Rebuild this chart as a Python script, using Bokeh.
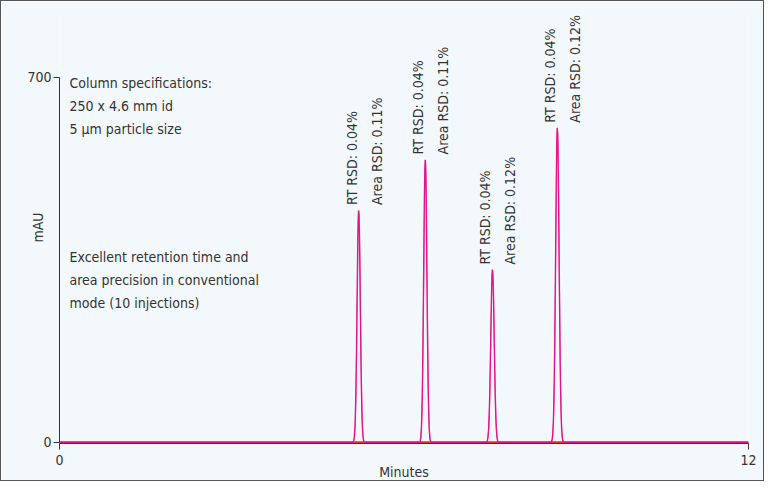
import numpy as np
from bokeh.plotting import figure
from bokeh.models import Label, ColumnDataSource, FixedTicker
from bokeh.core.properties import value
from bokeh.embed import file_html
from bokeh.resources import INLINE

peak_rt = [5.21, 6.37, 7.54, 8.67]
peak_height = [445, 542, 331, 603]
peak_sigma = [0.028, 0.028, 0.03, 0.03]
rt_rsd = ["RT RSD: 0.04%", "RT RSD: 0.04%", "RT RSD: 0.04%", "RT RSD: 0.04%"]
area_rsd = ["Area RSD: 0.11%", "Area RSD: 0.11%", "Area RSD: 0.12%", "Area RSD: 0.12%"]
x_ticks = [0, 12]
y_ticks = [0, 700]

FONT = "DejaVu Sans Condensed"
FS = "14px"
t = np.linspace(0, 12, 4001)
def trace(shift, scale):
    y = np.zeros_like(t)
    for rt, h, s in zip(peak_rt, peak_height, peak_sigma):
        y += h * scale * np.exp(-0.5 * ((t - rt - shift) / s) ** 2)
    return y

p = figure(width=764, height=481, output_backend="svg", toolbar_location=None,
           x_range=(0, 12), y_range=(-2, 826), min_border_left=58, min_border_right=17,
           min_border_top=10, min_border_bottom=36, background_fill_color="#f3f8fc",
           border_fill_color="#f3f8fc", outline_line_color=None)
p.styles = {"border": "1px solid #555555"}
p.grid.visible = False
p.xaxis.ticker = FixedTicker(ticks=x_ticks)
p.yaxis.ticker = FixedTicker(ticks=y_ticks)
p.yaxis.bounds = (0, 700)
for ax in (p.xaxis[0], p.yaxis[0]):
    ax.major_label_text_font = FONT
    ax.major_label_text_font_size = FS
    ax.major_label_text_color = "#333333"
    ax.axis_line_color = "#333333"
    ax.major_tick_line_color = "#333333"
    ax.minor_tick_line_color = None
    ax.major_tick_in = 0
    ax.major_tick_out = 6
    ax.axis_label_text_font = FONT
    ax.axis_label_text_font_size = FS
    ax.axis_label_text_font_style = "normal"
    ax.axis_label_text_color = "#333333"
p.xaxis.axis_label = "Minutes"
p.yaxis.axis_label = "mAU"
p.xaxis.axis_label_standoff = -4
p.yaxis.axis_label_standoff = -22
p.yaxis.major_label_standoff = 2

p.line(t, trace(0.004, 0.99), color="#f06bb0", line_width=1.2)
p.line(t, np.zeros_like(t) + 1.5, color="#3050c0", line_width=1)
p.line(t, np.zeros_like(t), color="#e83030", line_width=1.2)
p.line(t, trace(0.0, 1.0), color="#e0148c", line_width=1.3)

src = ColumnDataSource(dict(x=peak_rt, y=[h + 10 for h in peak_height], rt=rt_rsd, ar=area_rsd))
for col, off in (("rt", -7), ("ar", 18)):
    p.text(x="x", y="y", text=col, source=src, angle=np.pi / 2, x_offset=off,
           text_align="left", text_baseline="middle", text_font=value(FONT),
           text_font_size=FS, text_color="#333333")

left_lines = [(84, "Column specifications:"), (107, "250 x 4.6 mm id"), (130, "5 µm particle size"),
              (258, "Excellent retention time and"), (281, "area precision in conventional"),
              (304, "mode (10 injections)")]
for ytop, s in left_lines:
    p.add_layout(Label(x=10, y=453 - ytop, x_units="screen", y_units="screen", text=s,
                       text_font=FONT, text_font_size=FS, text_color="#333333",
                       text_baseline="top"))

open("out.html", "w").write(file_html(p, INLINE))
